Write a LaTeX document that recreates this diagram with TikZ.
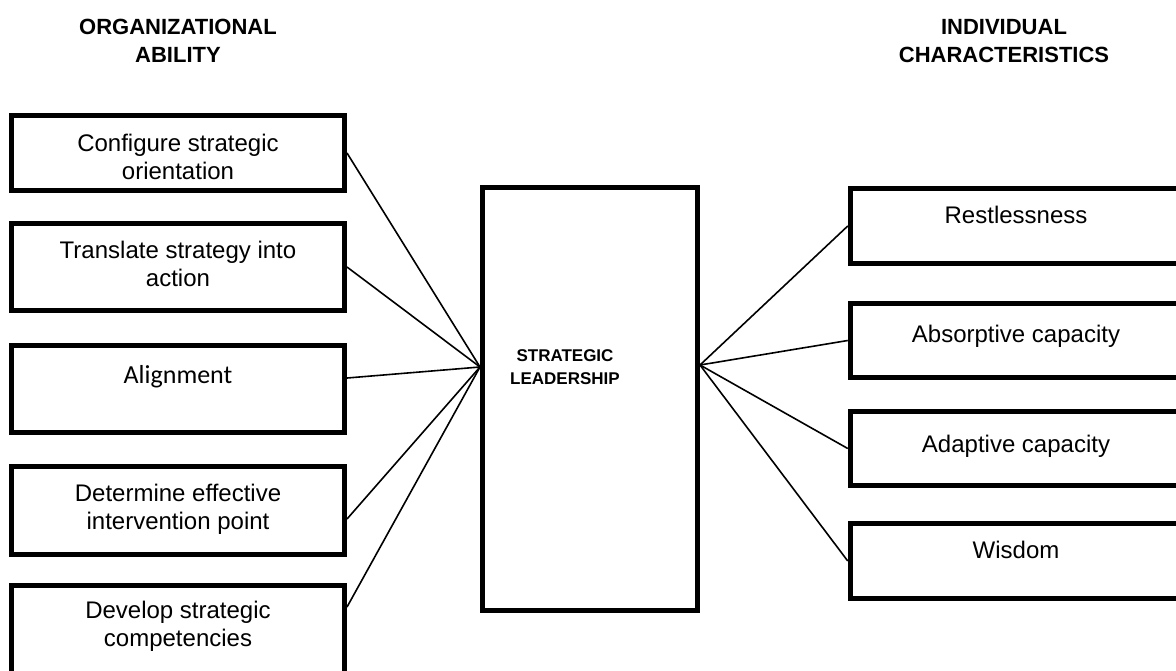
\documentclass[tikz,border=0pt]{standalone}
\usepackage{fontspec}
\setmainfont{Liberation Sans}
\newfontfamily\alignfont{Carlito}
\usetikzlibrary{calc}

\tikzset{
	ability/.style={draw, line width=2.5pt, minimum width=166.5pt, inner sep=0pt},
	trait/.style={draw, line width=2.5pt, minimum width=168.75pt, inner sep=0pt},
	boxtext/.style={align=center, font=\fontsize{12}{14}\selectfont},
	heading/.style={align=center, font=\fontsize{11}{14}\selectfont\bfseries},
	link/.style={line width=0.8pt},
}

\begin{document}
\begin{tikzpicture}[x=0.5pt,y=-0.5pt]

% canvas %{{{2

	\useasboundingbox (0,0) rectangle (1176,670);
	\clip (0,0) rectangle (1176,670);

% headings %{{{2

	\node[heading] (hleft) at (178,41) {ORGANIZATIONAL\\ABILITY};
	\node[heading] (hright) at (1004,41) {INDIVIDUAL\\CHARACTERISTICS};

% centre box %{{{2

	\node[draw, line width=2.5pt, minimum width=107.5pt, minimum height=211.5pt, inner sep=0pt] (lead) at (590,399) {};
	\node[heading, font=\fontsize{8.5}{11.5}\selectfont\bfseries] (leadtext) at (565,367) {STRATEGIC\\LEADERSHIP};

	\coordinate (lw) at ($(lead.west)+(0,-32)$);
	\coordinate (le) at ($(lead.east)+(0,-34)$);

% organizational ability %{{{2

	\foreach \n/\y/\h in {b1/153/37.5pt, b2/267/43.5pt, b3/389/43.5pt, b4/510.5/44pt, b5/629.5/44pt} {
		\node[ability, minimum height=\h] (\n) at (178,\y) {};
	}

	\node[boxtext] (t1) at (178,157) {Configure strategic\\orientation};
	\node[boxtext] (t2) at (178,264) {Translate strategy into\\action};
	\node[boxtext, font=\alignfont\fontsize{13}{15}\selectfont] (t3) at (178,377) {Alignment};
	\node[boxtext] (t4) at (178,509) {Determine effective\\intervention point};
	\node[boxtext] (t5) at (178,626) {Develop strategic\\competencies};

% individual characteristics %{{{2

	\foreach \n/\y/\h in {r1/226/37.5pt, r2/340.5/37pt, r3/448.5/37pt, r4/561/37.5pt} {
		\node[trait, minimum height=\h] (\n) at (1019,\y) {};
	}

	\node[boxtext] (s1) at (1016,215) {Restlessness};
	\node[boxtext] (s2) at (1016,336) {Absorptive capacity};
	\node[boxtext] (s3) at (1016,446) {Adaptive capacity};
	\node[boxtext] (s4) at (1016,550) {Wisdom};

% connectors %{{{2

	\draw[link] (b1.east) -- (lw);
	\draw[link] (b2.east) -- (lw);
	\draw[link] (b3.east |- 0,378) -- (lw);
	\draw[link] (b4.east |- 0,519) -- (lw);
	\draw[link] (b5.east |- 0,607) -- (lw);

	\foreach \i in {1,...,4} { \draw[link] (le) -- (r\i.west); }

\end{tikzpicture}
\end{document}
